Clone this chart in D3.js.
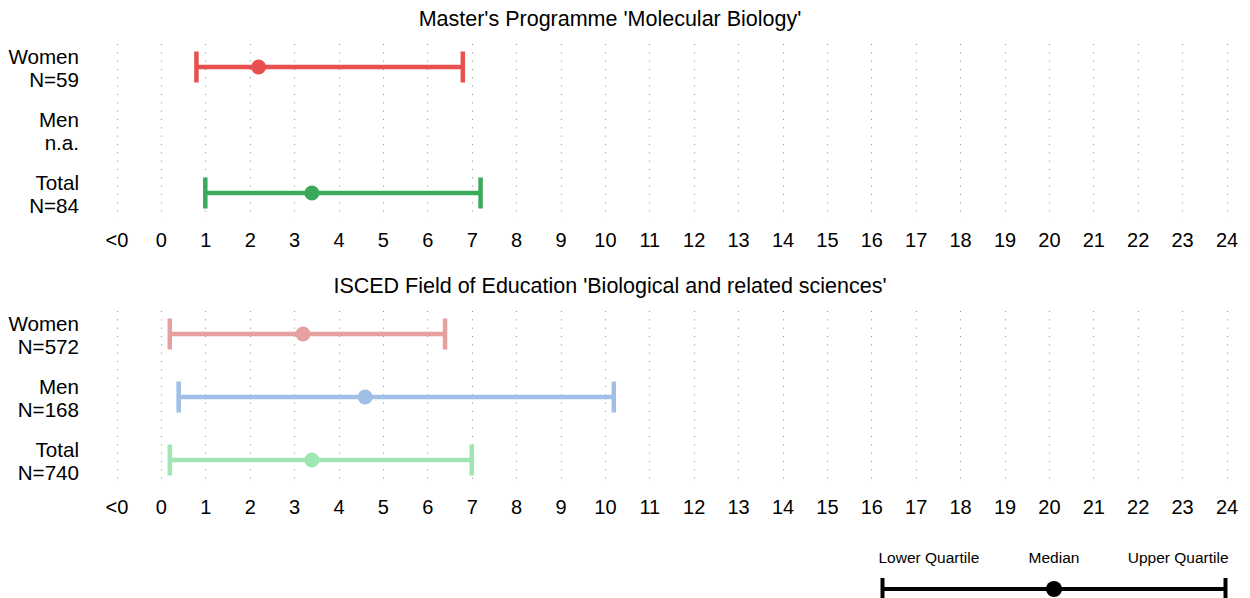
<!DOCTYPE html>
<html>
<head>
<meta charset="utf-8">
<script src="https://cdn.jsdelivr.net/npm/d3@7"></script>
<style>
  body { margin: 0; background: #fff; }
  svg text { font-family: "Liberation Sans", Arial, Helvetica, sans-serif; fill: #000; }
</style>
</head>
<body>
<div id="chart"></div>
<script>
// data
var groups = ['Women', 'Men', 'Total'];
var tickValues = [-1, 0, 1, 2, 3, 4, 5, 6, 7, 8, 9, 10, 11, 12, 13, 14, 15, 16, 17, 18, 19, 20, 21, 22, 23, 24];
var tickLabels = ['<0', '0', '1', '2', '3', '4', '5', '6', '7', '8', '9', '10', '11', '12',
	'13', '14', '15', '16', '17', '18', '19', '20', '21', '22', '23', '24'];

var titleTop = "Master's Programme 'Molecular Biology'";
var nTop = [59, null, 84];
var lowerTop = [0.8, null, 1.0];
var medianTop = [2.2, null, 3.4];
var upperTop = [6.8, null, 7.2];
var colorsTop = ['#e8504f', '#5a8fd8', '#3aaa5a'];

var titleBottom = "ISCED Field of Education 'Biological and related sciences'";
var nBottom = [572, 168, 740];
var lowerBottom = [0.2, 0.4, 0.2];
var medianBottom = [3.2, 4.6, 3.4];
var upperBottom = [6.4, 10.2, 7.0];
var colorsBottom = ['#e5a0a0', '#a0bee6', '#a0e6b4'];

var legendLabels = ['Lower Quartile', 'Median', 'Upper Quartile'];

var width = 1250;
var height = 598;
var fontSize = 20;
var lineWidth = 4.5;
var capHeight = 31;
var dotRadius = 7.5;

var svg = d3.select('#chart')
	.append('svg')
	.attr('width', width)
	.attr('height', height);

var x = d3.scaleLinear()
	.domain([-1, 24])
	.range([116.5, 1226.5]);

function drawPanel(top, title, n, lower, median, upper, colors) {
	var g = svg.append('g').attr('transform', 'translate(0,' + top + ')');

	var y = d3.scalePoint()
		.domain(groups)
		.range([48, 174]);

	g.append('text')
		.attr('x', 610)
		.attr('y', 7)
		.attr('text-anchor', 'middle')
		.style('font-size', '21.5px')
		.text(title);

	// dotted grid
	g.selectAll('.grid')
		.data(tickValues)
		.enter()
		.append('line')
		.attr('class', 'grid')
		.attr('x1', function(d){ return Math.round(x(d)) + 0.5; })
		.attr('x2', function(d){ return Math.round(x(d)) + 0.5; })
		.attr('y1', 25)
		.attr('y2', 200)
		.attr('stroke', '#8c8c8c')
		.attr('stroke-width', 1)
		.attr('stroke-dasharray', '1,7.33');

	// row labels
	var labels = g.selectAll('.rowlabel')
		.data(groups)
		.enter()
		.append('text')
		.attr('class', 'rowlabel')
		.attr('text-anchor', 'end')
		.style('font-size', '20.6px');
	labels.append('tspan')
		.attr('x', 79)
		.attr('y', function(d){ return y(d) - 3.5; })
		.text(function(d){ return d; });
	labels.append('tspan')
		.attr('x', 79)
		.attr('y', function(d){ return y(d) + 20; })
		.text(function(d, i){ return n[i] == null ? 'n.a.' : 'N=' + n[i]; });

	var rows = groups.map(function(d, i){
		return {group: d, lower: lower[i], median: median[i], upper: upper[i], color: colors[i]};
	}).filter(function(d){ return d.median != null; });

	var bars = g.selectAll('.bar')
		.data(rows)
		.enter()
		.append('g')
		.attr('class', 'bar');

	bars.append('line')
		.attr('x1', function(d){ return x(d.lower); })
		.attr('x2', function(d){ return x(d.upper); })
		.attr('y1', function(d){ return y(d.group); })
		.attr('y2', function(d){ return y(d.group); })
		.attr('stroke', function(d){ return d.color; })
		.attr('stroke-width', lineWidth);

	['lower', 'upper'].forEach(function(k){
		bars.append('line')
			.attr('x1', function(d){ return x(d[k]); })
			.attr('x2', function(d){ return x(d[k]); })
			.attr('y1', function(d){ return y(d.group) - capHeight / 2; })
			.attr('y2', function(d){ return y(d.group) + capHeight / 2; })
			.attr('stroke', function(d){ return d.color; })
			.attr('stroke-width', lineWidth);
	});

	bars.append('circle')
		.attr('cx', function(d){ return x(d.median); })
		.attr('cy', function(d){ return y(d.group); })
		.attr('r', dotRadius)
		.attr('fill', function(d){ return d.color; });

	// x axis
	var axis = d3.axisBottom(x)
		.tickValues(tickValues)
		.tickFormat(function(d, i){ return tickLabels[i]; })
		.tickSize(0)
		.tickPadding(0);

	var ax = g.append('g')
		.attr('transform', 'translate(0,' + 214 + ')')
		.call(axis);
	ax.select('.domain').remove();
	ax.selectAll('text')
		.style('font-size', fontSize + 'px')
		.style('font-family', '"Liberation Sans", Arial, sans-serif')
		.attr('fill', '#000');
}

drawPanel(19, titleTop, nTop, lowerTop, medianTop, upperTop, colorsTop);
drawPanel(286, titleBottom, nBottom, lowerBottom, medianBottom, upperBottom, colorsBottom);

// legend
var lx = d3.scaleLinear().domain([0, 1]).range([882.5, 1225.5]);
var legend = svg.append('g');
var legendY = 589;

legend.selectAll('text')
	.data(legendLabels)
	.enter()
	.append('text')
	.attr('x', function(d, i){ return i == 0 ? lx(0) - 4 : (i == 1 ? lx(0.5) : lx(1) + 3); })
	.attr('y', 563)
	.attr('text-anchor', function(d, i){ return i == 0 ? 'start' : (i == 1 ? 'middle' : 'end'); })
	.style('font-size', '15.5px')
	.text(function(d){ return d; });

legend.append('line')
	.attr('x1', lx(0)).attr('x2', lx(1))
	.attr('y1', legendY).attr('y2', legendY)
	.attr('stroke', '#000').attr('stroke-width', 4);
[0, 1].forEach(function(v){
	legend.append('line')
		.attr('x1', lx(v)).attr('x2', lx(v))
		.attr('y1', legendY - 11).attr('y2', legendY + 11)
		.attr('stroke', '#000').attr('stroke-width', 4);
});
legend.append('circle')
	.attr('cx', lx(0.5)).attr('cy', legendY)
	.attr('r', 8).attr('fill', '#000');
</script>
</body>
</html>
